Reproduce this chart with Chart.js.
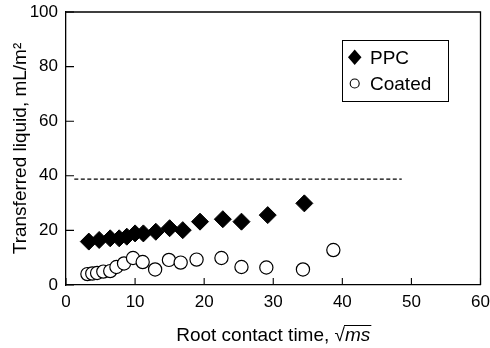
<!DOCTYPE html>
<html>
<head>
<meta charset="utf-8">
<script src="https://cdn.jsdelivr.net/npm/chart.js@4/dist/chart.umd.min.js"></script>
<style>
  body { margin: 0; background: #fff; }
  canvas { display: block; }
</style>
</head>
<body>
<canvas id="chart" width="490" height="348"></canvas>
<script>
// Données
const ppcX = [3.3, 4.8, 6.4, 7.7, 8.8, 10.0, 11.2, 13.0, 15.0, 16.9, 19.4, 22.7, 25.4, 29.2, 34.5];
const ppcY = [15.9, 16.5, 17.1, 17.1, 17.7, 18.9, 18.9, 19.5, 20.8, 20.1, 23.2, 24.1, 23.2, 25.6, 29.9];
const coatedX = [3.1, 3.8, 4.5, 5.4, 6.4, 7.3, 8.4, 9.7, 11.1, 12.9, 14.9, 16.6, 18.9, 22.5, 25.4, 29.0, 34.3, 38.7];
const coatedY = [4.0, 4.2, 4.4, 4.9, 5.1, 6.6, 7.9, 9.9, 8.4, 5.7, 9.2, 8.2, 9.3, 9.9, 6.6, 6.4, 5.7, 12.8];
const refLineX = [1.2, 48.6];
const refLineY = [38.8, 38.8];
const seriesNames = ['PPC', 'Coated'];
const xTicks = [0, 10, 20, 30, 40, 50, 60];
const yTicks = [0, 20, 40, 60, 80, 100];

const FONT = '"Liberation Sans", Arial, Helvetica, sans-serif';

function pts(xs, ys) {
  return xs.map((x, i) => ({ x: x, y: ys[i] }));
}

// Cadre, graduations internes, légende et titre de l'axe x
const extras = {
  id: 'extras',
  afterDraw(chart) {
    const { ctx, chartArea: a, scales } = chart;
    ctx.save();
    ctx.strokeStyle = '#000';
    ctx.lineWidth = 1.3;
    ctx.beginPath();
    ctx.moveTo(a.left, a.top);
    ctx.lineTo(a.right, a.top);
    ctx.lineTo(a.right, a.bottom);
    ctx.stroke();

    ctx.lineWidth = 1.1;
    ctx.beginPath();
    xTicks.forEach(v => {
      const px = scales.x.getPixelForValue(v);
      ctx.moveTo(px, a.bottom);
      ctx.lineTo(px, a.bottom - 7);
    });
    yTicks.forEach(v => {
      const py = scales.y.getPixelForValue(v);
      ctx.moveTo(a.left, py);
      ctx.lineTo(a.left + 8, py);
    });
    ctx.stroke();

    // légende
    ctx.lineWidth = 1;
    ctx.strokeRect(342.5, 40.5, 106, 61);
    ctx.fillStyle = '#000';
    ctx.beginPath();
    ctx.moveTo(354.7, 49.5);
    ctx.lineTo(361.5, 57.3);
    ctx.lineTo(354.7, 65);
    ctx.lineTo(348, 57.3);
    ctx.closePath();
    ctx.fill();
    ctx.beginPath();
    ctx.arc(354.7, 83.5, 4.5, 0, Math.PI * 2);
    ctx.lineWidth = 1.1;
    ctx.stroke();
    ctx.font = '19px ' + FONT;
    ctx.textBaseline = 'middle';
    ctx.textAlign = 'left';
    ctx.fillText(seriesNames[0], 370, 59);
    ctx.fillText(seriesNames[1], 370, 84.5);

    // titre de l'axe x : Root contact time, √ms
    const part1 = 'Root contact time, ';
    ctx.font = '19px ' + FONT;
    const w1 = ctx.measureText(part1).width;
    const wr = ctx.measureText('\u221A').width;
    ctx.font = 'italic 19px ' + FONT;
    const w2 = ctx.measureText('ms').width;
    const total = w1 + wr + w2;
    let x0 = (a.left + a.right) / 2 - total / 2;
    const base = 341;
    ctx.textBaseline = 'alphabetic';
    ctx.font = '19px ' + FONT;
    ctx.fillText(part1, x0, base);
    ctx.fillText('\u221A', x0 + w1, base);
    ctx.font = 'italic 19px ' + FONT;
    ctx.fillText('ms', x0 + w1 + wr, base);
    ctx.lineWidth = 1;
    ctx.beginPath();
    ctx.moveTo(x0 + w1 + wr - 1, base - 15.5);
    ctx.lineTo(x0 + total + 1, base - 15.5);
    ctx.stroke();
    ctx.restore();
  }
};

new Chart(document.getElementById('chart'), {
  type: 'scatter',
  data: {
    datasets: [
      {
        label: 'ref',
        data: pts(refLineX, refLineY),
        showLine: true,
        borderColor: '#000',
        borderWidth: 1.1,
        borderDash: [4, 2.5],
        pointRadius: 0
      },
      {
        label: seriesNames[1],
        data: pts(coatedX, coatedY),
        pointStyle: 'circle',
        pointRadius: 6.6,
        backgroundColor: '#fff',
        borderColor: '#000',
        borderWidth: 1.2
      },
      {
        label: seriesNames[0],
        data: pts(ppcX, ppcY),
        pointStyle: 'rectRot',
        pointRadius: 8.5,
        backgroundColor: '#000',
        borderColor: '#000',
        borderWidth: 1
      }
    ]
  },
  options: {
    responsive: false,
    animation: false,
    events: [],
    layout: { padding: { top: 12, right: 8, left: 0, bottom: 0 } },
    plugins: {
      legend: { display: false },
      tooltip: { enabled: false }
    },
    scales: {
      x: {
        type: 'linear',
        min: 0,
        max: 60,
        afterFit(s) { s.height = 63; s.paddingLeft = 0; s.paddingRight = 0; },
        afterBuildTicks(s) { s.ticks = xTicks.map(v => ({ value: v })); },
        grid: { display: false, drawTicks: false },
        border: { display: true, color: '#000', width: 1.3 },
        ticks: { color: '#000', padding: 7, font: { family: FONT, size: 17 }, maxRotation: 0 },
        title: { display: false }
      },
      y: {
        type: 'linear',
        min: 0,
        max: 100,
        afterFit(s) { s.width = 66; s.paddingTop = 0; s.paddingBottom = 0; },
        afterBuildTicks(s) { s.ticks = yTicks.map(v => ({ value: v })); },
        grid: { display: false, drawTicks: false },
        border: { display: true, color: '#000', width: 1.3 },
        ticks: { color: '#000', padding: 8, font: { family: FONT, size: 17 } },
        title: {
          display: true,
          text: 'Transferred liquid, mL/m\u00B2',
          color: '#000',
          font: { family: FONT, size: 19 },
          padding: { top: 9, bottom: 0 }
        }
      }
    }
  },
  plugins: [extras]
});
</script>
</body>
</html>
